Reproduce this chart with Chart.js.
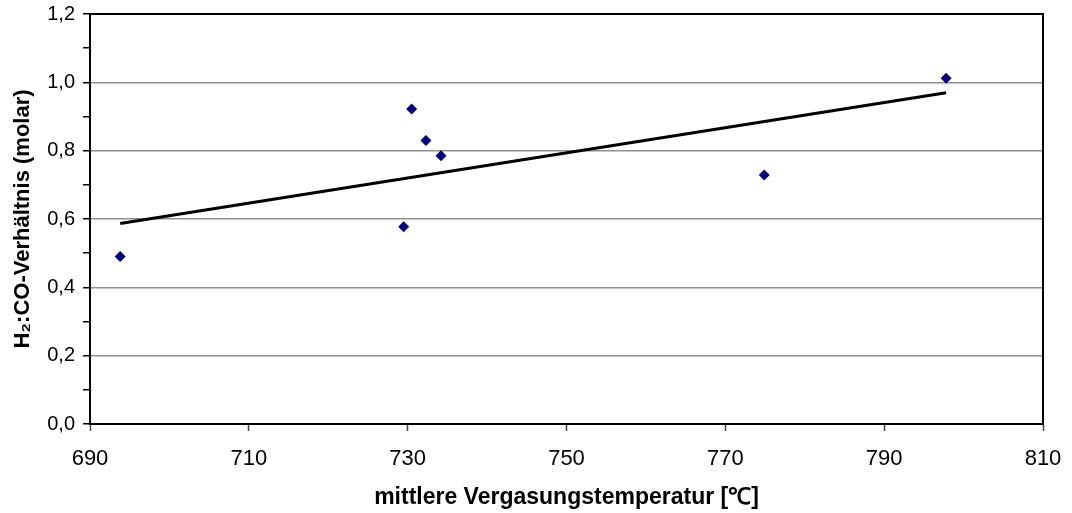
<!DOCTYPE html>
<html>
<head>
<meta charset="utf-8">
<script src="https://cdn.jsdelivr.net/npm/chart.js@4/dist/chart.umd.min.js"></script>
<style>
  html, body { margin: 0; padding: 0; background: #fff; }
  #wrap { width: 1072px; height: 513px; position: relative; }
</style>
</head>
<body>
<div id="wrap"><canvas id="chart"></canvas></div>
<script>
const temperatures = [693.8, 729.5, 730.5, 732.3, 734.2, 774.9, 797.8];
const ratios = [0.49, 0.577, 0.922, 0.83, 0.785, 0.729, 1.012];

// Achsen
const xRange = [690, 810];
const xStep = 20;
const yRange = [0, 1.2];
const yStep = 0.1;

const xTitle = "mittlere Vergasungstemperatur [\u2103]";
const yTitle = "H\u2082:CO-Verhältnis (molar)";

// lineare Trendlinie (kleinste Quadrate) über die Messwerte
function linearTrend(xs, ys) {
  const n = xs.length;
  const mx = xs.reduce((a, b) => a + b, 0) / n;
  const my = ys.reduce((a, b) => a + b, 0) / n;
  let sxy = 0, sxx = 0;
  xs.forEach(function (x, i) {
    sxy += (x - mx) * (ys[i] - my);
    sxx += (x - mx) * (x - mx);
  });
  const slope = sxy / sxx;
  const xMin = Math.min(...xs);
  const xMax = Math.max(...xs);
  return [
    { x: xMin, y: my + slope * (xMin - mx) },
    { x: xMax, y: my + slope * (xMax - mx) },
  ];
}

const points = temperatures.map((t, i) => ({ x: t, y: ratios[i] }));

// Rahmen oben und rechts um die Zeichenfläche
const frame = {
  id: "frame",
  afterDraw(chart) {
    const a = chart.chartArea;
    const ctx = chart.ctx;
    ctx.save();
    ctx.strokeStyle = "#000";
    ctx.lineWidth = 2;
    ctx.beginPath();
    ctx.moveTo(a.left, a.top);
    ctx.lineTo(a.right, a.top);
    ctx.lineTo(a.right, a.bottom);
    ctx.stroke();
    ctx.restore();
  },
};

const family = "'Liberation Sans', Arial, sans-serif";

new Chart(document.getElementById("chart"), {
  type: "scatter",
  data: {
    datasets: [
      {
        label: "Messwerte",
        data: points,
        pointStyle: "rectRot",
        pointRadius: 5.5,
        pointBackgroundColor: "#000080",
        pointBorderColor: "#000080",
        pointBorderWidth: 0,
      },
      {
        label: "Trend",
        data: linearTrend(temperatures, ratios),
        showLine: true,
        borderColor: "#000",
        borderWidth: 3,
        pointRadius: 0,
      },
    ],
  },
  options: {
    responsive: true,
    maintainAspectRatio: false,
    animation: false,
    layout: { padding: { top: 14, right: 29, left: 0, bottom: 0 } },
    plugins: {
      legend: { display: false },
      tooltip: { enabled: false },
    },
    scales: {
      x: {
        type: "linear",
        min: xRange[0],
        max: xRange[1],
        afterFit(scale) {
          scale.height = 89;
          scale.paddingLeft = 0;
          scale.paddingRight = 0;
        },
        ticks: {
          stepSize: xStep,
          color: "#000",
          font: { family: family, size: 22 },
          padding: 15,
          maxRotation: 0,
        },
        grid: {
          drawOnChartArea: false,
          drawTicks: true,
          tickLength: 7,
          tickColor: "#444",
          tickWidth: 1.5,
        },
        border: { color: "#000", width: 2 },
        title: {
          display: true,
          text: xTitle,
          color: "#000",
          font: { family: family, size: 23, weight: "bold" },
          padding: { top: 0, bottom: 2 },
        },
      },
      y: {
        type: "linear",
        min: yRange[0],
        max: yRange[1],
        afterFit(scale) {
          scale.width = 90;
          scale.paddingTop = 0;
          scale.paddingBottom = 0;
        },
        ticks: {
          stepSize: yStep,
          autoSkip: false,
          color: "#000",
          font: { family: family, size: 20 },
          padding: 8,
          callback(value) {
            const k = Math.round(value * 10);
            return k % 2 === 0 ? (k / 10).toFixed(1).replace(".", ",") : "";
          },
        },
        grid: {
          color(ctx) {
            const k = Math.round(ctx.tick.value * 10);
            if (k === 0 || k === 12 || k % 2 !== 0) return "rgba(0,0,0,0)";
            return "#909090";
          },
          lineWidth: 1.5,
          tickLength: 7,
          tickColor: "#000",
          tickWidth: 1.5,
        },
        border: { color: "#000", width: 2 },
        title: {
          display: true,
          text: yTitle,
          color: "#000",
          font: { family: family, size: 22, weight: "bold" },
          padding: { top: 10, bottom: 0 },
        },
      },
    },
  },
  plugins: [frame],
});
</script>
</body>
</html>
